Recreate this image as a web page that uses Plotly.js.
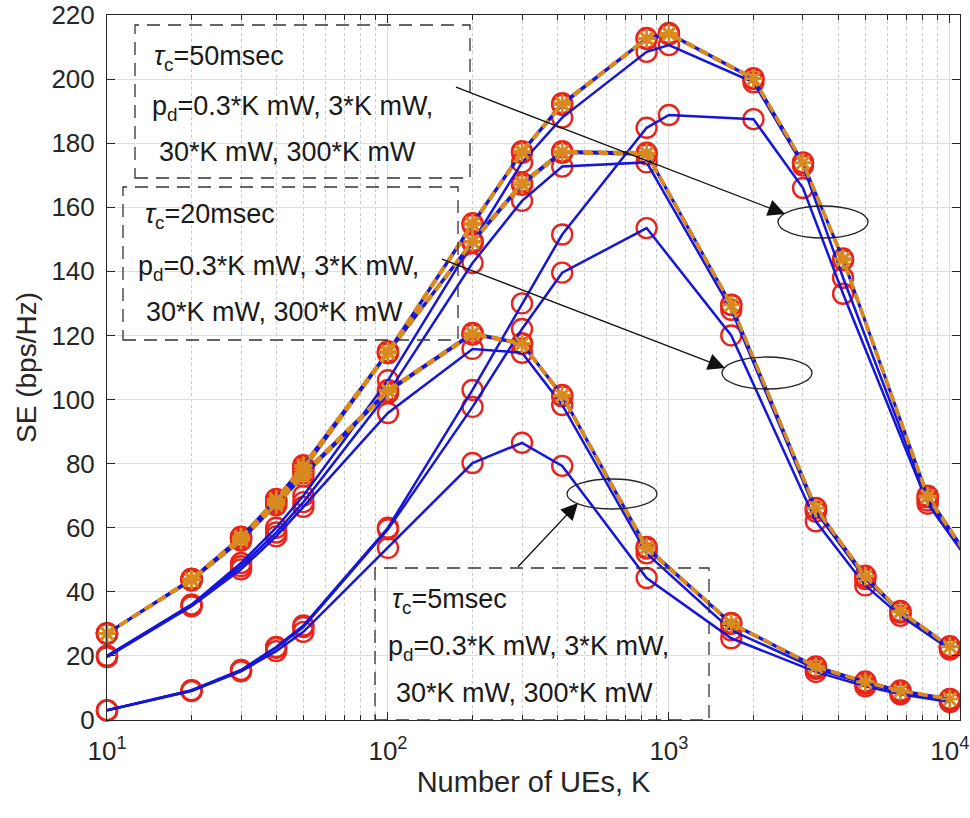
<!DOCTYPE html>
<html>
<head>
<meta charset="utf-8">
<script src="https://cdn.plot.ly/plotly-3.0.1.min.js"></script>
<style>html,body{margin:0;padding:0;background:#fff}#chart{width:970px;height:818px}</style>
</head>
<body>
<div id="chart"></div>
<script>
// ---- Data ----
const K50 = [10, 20, 30, 40, 50, 100, 200, 300, 417, 833, 1000, 2000, 3000, 4167, 8333, 12500];
const se50_p03  = [3, 9.3, 15.6, 22.8, 29.5, 60, 103, 130, 151.5, 184.8, 188.8, 187.5, 166, 133, 67.5, 46];
const se50_p3   = [20, 36, 49, 60, 70, 106, 149, 174, 188, 208.5, 210.6, 199, 173, 138, 68.5, 46];
const se50_p30  = [27, 43.8, 57, 68.5, 79, 114.5, 154.5, 177, 192, 212.5, 214, 200, 173.8, 143.5, 69.5, 46.5];
const se50_p300 = [27, 44, 57.2, 69, 79.5, 115, 155, 177.5, 192.5, 212.8, 214.4, 200.3, 174, 144, 70, 47];

const K20 = [10, 20, 30, 40, 50, 100, 200, 300, 417, 833, 1667, 3333, 5000, 6667, 10000];
const se20_p03  = [3, 9.2, 15.5, 22.5, 29, 59.5, 97.7, 122, 139.6, 153.5, 120, 62, 42, 32.5, 22];
const se20_p3   = [20, 36, 48, 58.5, 68, 102, 142.6, 162, 172.7, 174, 128, 65, 44, 33.5, 22.5];
const se20_p30  = [27, 44, 57, 68, 78, 114.5, 149, 167, 177, 176.5, 129.5, 66, 44.7, 33.7, 22.8];
const se20_p300 = [27, 44, 57, 68.5, 79, 115, 149.5, 167.7, 177.5, 177, 129.6, 66.2, 45, 34, 23];

const K5 = [10, 20, 30, 40, 50, 100, 200, 300, 417, 833, 1667, 3333, 5000, 6667, 10000];
const se5_p03  = [3, 9, 15.2, 21.5, 27.5, 53.7, 80.2, 86.5, 79.3, 44.3, 25.5, 15, 10.5, 8, 5.6];
const se5_p3   = [19.6, 35.5, 47, 57.3, 66.5, 95.8, 115.8, 114.6, 98.3, 52, 28, 16, 11.3, 8.6, 6.2];
const se5_p30  = [27, 43.5, 56, 67, 76, 102.4, 120.3, 117.3, 101, 53.5, 30, 16.5, 11.8, 9, 6.5];
const se5_p300 = [27, 44, 56.5, 67.5, 77, 103, 120.8, 117.6, 101.4, 54, 30.3, 16.7, 12, 9.2, 6.6];

const xTickVals = [10, 100, 1000, 10000];
const xTickText = ['10<sup>1</sup>', '10<sup>2</sup>', '10<sup>3</sup>', '10<sup>4</sup>'];
const yTickVals = [0, 20, 40, 60, 80, 100, 120, 140, 160, 180, 200, 220];
const boxTexts = {
  t50: ['<i>τ</i><sub>c</sub>=50msec', 'p<sub>d</sub>=0.3*K mW, 3*K mW,', '30*K mW, 300*K mW'],
  t20: ['<i>τ</i><sub>c</sub>=20msec', 'p<sub>d</sub>=0.3*K mW, 3*K mW,', '30*K mW, 300*K mW'],
  t5:  ['<i>τ</i><sub>c</sub>=5msec',  'p<sub>d</sub>=0.3*K mW, 3*K mW,', '30*K mW, 300*K mW']
};

// ---- Styles ----
const BLUE = '#1616d8', RED = '#e8241c', ORANGE = '#d98a1f';
const XMAXLOG = 4.036;
const groups = [
  {K: K50, s: [se50_p03, se50_p3, se50_p30, se50_p300]},
  {K: K20, s: [se20_p03, se20_p3, se20_p30, se20_p300]},
  {K: K5,  s: [se5_p03, se5_p3, se5_p30, se5_p300]}
];
const traces = [];
const inView = (k) => Math.log10(k) <= XMAXLOG;
// red circles
groups.forEach(g => g.s.forEach(ys => {
  const xs = g.K.filter(inView), yv = ys.filter((v, i) => inView(g.K[i]));
  traces.push({x: xs, y: yv, type: 'scatter', mode: 'markers', cliponaxis: false, hoverinfo: 'skip',
    marker: {symbol: 'circle-open', size: 20, color: RED, line: {width: 2.4, color: RED}}});
}));
// blue solid lines
groups.forEach(g => g.s.forEach(ys => {
  traces.push({x: g.K, y: ys, type: 'scatter', mode: 'lines', hoverinfo: 'skip',
    line: {color: BLUE, width: 2.5}});
}));
// orange dashed + asterisk for the two high powers
groups.forEach(g => [2, 3].forEach(j => {
  const ys = g.s[j];
  traces.push({x: g.K, y: ys, type: 'scatter', mode: 'lines', hoverinfo: 'skip',
    line: {color: ORANGE, width: 3.2, dash: '9px,6px'}});
  const xs = g.K.filter(inView), yv = ys.filter((v, i) => inView(g.K[i]));
  traces.push({x: xs, y: yv, type: 'scatter', mode: 'markers', cliponaxis: false, hoverinfo: 'skip',
    marker: {symbol: 'asterisk-open', size: 15, color: ORANGE, line: {width: 2.4, color: ORANGE}}});
}));

// ---- Layout helpers (pixel -> paper) ----
const L = 107, R = 960, T = 15, B = 720;
const px = x => (x - L) / (R - L);
const py = y => (B - y) / (B - T);
const FONT = 'Liberation Sans, Arial, Helvetica, sans-serif';
const TXT = {family: FONT, size: 27, color: '#1a1a1a'};

function rect(x0, y0, x1, y1) {
  return {type: 'rect', xref: 'paper', yref: 'paper', x0: px(x0), x1: px(x1), y0: py(y1), y1: py(y0),
    line: {color: '#333', width: 1.3, dash: '13px,8px'}, fillcolor: 'rgba(0,0,0,0)'};
}
function ell(cx, cy, rx, ry) {
  return {type: 'circle', xref: 'paper', yref: 'paper', x0: px(cx - rx), x1: px(cx + rx), y0: py(cy + ry), y1: py(cy - ry),
    line: {color: '#222', width: 1.3}};
}
function txt(t, x, y) {
  return {text: t, xref: 'paper', yref: 'paper', x: px(x), y: py(y), xanchor: 'left', yanchor: 'middle',
    showarrow: false, font: TXT};
}
function arrow(tx, ty, sx, sy) {
  return {text: ' ', xref: 'paper', yref: 'paper', x: px(tx), y: py(ty), ax: sx - tx, ay: sy - ty,
    showarrow: true, arrowhead: 2, arrowsize: 2.6, arrowwidth: 1.3, arrowcolor: '#111'};
}

const shapes = [
  rect(135, 25, 470, 178),
  rect(123, 187, 458, 340),
  rect(375, 568, 709, 720),
  ell(823, 222, 45, 16),
  ell(767, 373, 45, 16),
  ell(612, 494, 45, 15)
];
const annotations = [
  txt(boxTexts.t50[0], 152, 58), txt(boxTexts.t50[1], 150, 108), txt(boxTexts.t50[2], 157, 152),
  txt(boxTexts.t20[0], 143, 216), txt(boxTexts.t20[1], 136, 268), txt(boxTexts.t20[2], 144, 312),
  txt(boxTexts.t5[0], 390, 601), txt(boxTexts.t5[1], 386, 648), txt(boxTexts.t5[2], 394, 693),
  arrow(785, 214, 453, 86),
  arrow(725, 368, 439, 258),
  arrow(578, 503, 515, 570)
];

const minorX = [];
[10, 100, 1000].forEach(d => { for (let m = 2; m <= 9; m++) minorX.push(m * d); });

const layout = {
  width: 970, height: 818,
  margin: {l: L, r: 970 - R, t: T, b: 818 - B},
  paper_bgcolor: '#fff', plot_bgcolor: '#fff',
  showlegend: false,
  font: {family: FONT, color: '#262626'},
  xaxis: {
    type: 'log', range: [1, XMAXLOG], autorange: false,
    tickmode: 'array', tickvals: xTickVals, ticktext: xTickText,
    tickfont: {family: FONT, size: 26, color: '#262626'},
    ticks: 'inside', ticklen: 8, tickcolor: '#262626', tickwidth: 1,
    showline: true, linecolor: '#262626', linewidth: 1, mirror: 'ticks',
    showgrid: true, gridcolor: '#dedede', gridwidth: 1,
    minor: {tickmode: 'array', tickvals: minorX, ticks: 'inside', ticklen: 5, tickcolor: '#262626',
      showgrid: true, gridcolor: '#c8c8c8', griddash: 'dot', gridwidth: 1},
    zeroline: false, ticklabelstandoff: 8,
    title: {text: 'Number of UEs, K', font: {family: FONT, size: 29, color: '#262626'}, standoff: 6}
  },
  yaxis: {
    range: [0, 220], autorange: false,
    tickmode: 'array', tickvals: yTickVals,
    tickfont: {family: FONT, size: 26, color: '#262626'},
    ticks: 'inside', ticklen: 8, tickcolor: '#262626', tickwidth: 1,
    showline: true, linecolor: '#262626', linewidth: 1, mirror: 'ticks',
    showgrid: true, gridcolor: '#dedede', gridwidth: 1,
    zeroline: false, ticklabelstandoff: 6,
    title: {text: 'SE (bps/Hz)', font: {family: FONT, size: 28, color: '#262626'}, standoff: 6}
  },
  shapes: shapes,
  annotations: annotations
};

Plotly.newPlot('chart', traces, layout, {staticPlot: true, displayModeBar: false});
</script>
</body>
</html>
